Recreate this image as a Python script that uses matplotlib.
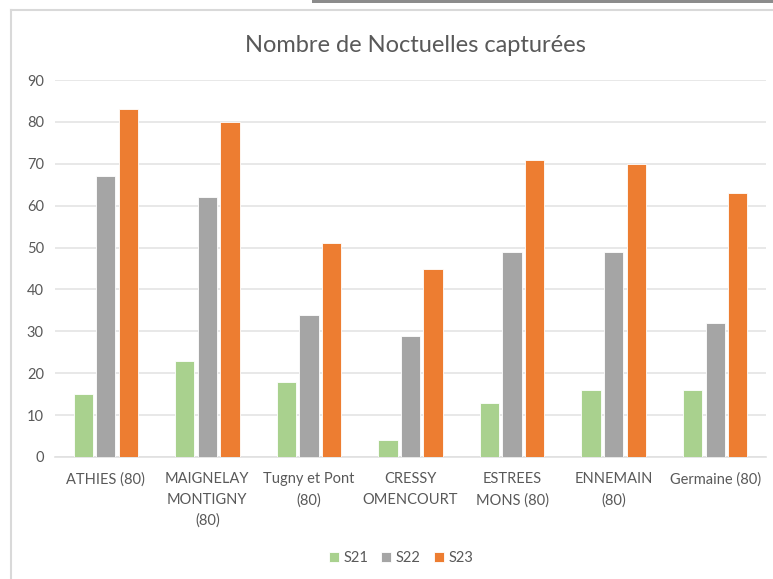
import matplotlib
matplotlib.use("Agg")
import matplotlib.pyplot as plt
import numpy as np
from matplotlib.lines import Line2D
from matplotlib.patches import Rectangle

categories = ["ATHIES (80)", "MAIGNELAY\nMONTIGNY\n(80)", "Tugny et Pont\n(80)",
              "CRESSY\nOMENCOURT", "ESTREES\nMONS (80)", "ENNEMAIN\n(80)", "Germaine (80)"]
s21 = [15, 23, 18, 4, 13, 16, 16]
s22 = [67, 62, 34, 29, 49, 49, 32]
s23 = [83, 80, 51, 45, 71, 70, 63]
series_names = ["S21", "S22", "S23"]
colors = ["#A9D18E", "#A5A5A5", "#ED7D31"]
yticks = [0, 10, 20, 30, 40, 50, 60, 70, 80, 90]

plt.rcParams['font.family'] = ['Lato', 'DejaVu Sans']
txt = "#595959"

W, H = 773, 579
fig = plt.figure(figsize=(W/100, H/100), dpi=100)
ax = fig.add_axes([55/W, 1-457/H, (766-55)/W, (457-80)/H])

x = np.arange(len(categories))
bw = 0.19
step = 0.222
for i, (vals, c, n) in enumerate(zip([s21, s22, s23], colors, series_names)):
    ax.bar(x + (i-1)*step, vals, width=bw, color=c, label=n,
           edgecolor="white", linewidth=0.6, zorder=3)

ax.set_xlim(-0.5, len(categories)-0.5)
ax.set_ylim(0, 90)
ax.set_yticks(yticks)
ax.set_yticklabels([str(t) for t in yticks], color=txt, fontsize=10.5)
ax.set_xticks(x)
ax.set_xticklabels(categories, color=txt, fontsize=10.5, linespacing=1.6)
ax.tick_params(axis='both', length=0)
ax.tick_params(axis='y', pad=8)
ax.tick_params(axis='x', pad=11)
ax.grid(axis='y', color="#E4E4E4", linewidth=1.2, zorder=0)
for s in ["top", "right", "left"]:
    ax.spines[s].set_visible(False)
ax.spines["bottom"].set_color("#E0E0E0")
ax.spines["bottom"].set_linewidth(1.2)

fig.text(415/W, 1-45/H, "Nombre de Noctuelles capturées", ha="center", va="center",
         fontsize=17, color=txt)

leg = fig.legend(loc="center", bbox_to_anchor=(401/W, 1-558/H), ncol=3, frameon=False,
                 fontsize=10.5, handlelength=0.7, handleheight=0.7, handletextpad=0.3,
                 columnspacing=0.9, labelcolor=txt)

# chart frame
fig.add_artist(Line2D([11/W, 11/W], [0, 1-10/H], color="#D9D9D9", linewidth=1.5,
                      transform=fig.transFigure))
fig.add_artist(Line2D([11/W, 1], [1-10/H, 1-10/H], color="#D9D9D9", linewidth=1.5,
                      transform=fig.transFigure))
fig.add_artist(Rectangle((312/W, 1-3/H), 1-312/W, 3/H, color="#8C8C8C",
                         transform=fig.transFigure, linewidth=0))

fig.savefig("out.png", dpi=100)
